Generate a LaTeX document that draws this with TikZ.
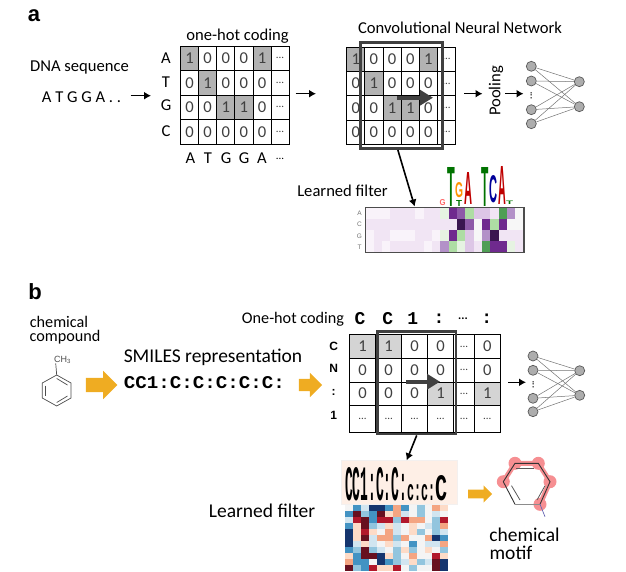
\documentclass[tikz,border=0pt]{standalone}
\usepackage{graphicx}
\usepackage{fontspec}
\setmainfont{Carlito}
\setsansfont{Liberation Sans}
\setmonofont{Liberation Mono}
\usetikzlibrary{arrows.meta}
\usetikzlibrary{shapes.arrows}

% purple/green map of the first filter
\definecolor{hp0}{HTML}{F9F3FA}
\definecolor{hp1}{HTML}{F1E5F4}
\definecolor{hp2}{HTML}{DDC6E6}
\definecolor{hp3}{HTML}{B391C8}
\definecolor{hp4}{HTML}{8E5AA8}
\definecolor{hp5}{HTML}{6F2A8E}
\definecolor{hp6}{HTML}{3A1550}
\definecolor{hw}{HTML}{F7F7F7}
\definecolor{hg0}{HTML}{E6F3E2}
\definecolor{hg1}{HTML}{AEDDA4}
\definecolor{hg2}{HTML}{4F9E55}
% red/blue map of the second filter
\definecolor{hR}{HTML}{67101F}
\definecolor{hr}{HTML}{B2182B}
\definecolor{ho}{HTML}{F4A582}
\definecolor{hl}{HTML}{FDDBC7}
\definecolor{hW}{HTML}{F4F4F4}
\definecolor{hb}{HTML}{D1E5F0}
\definecolor{hm}{HTML}{92C5DE}
\definecolor{hB}{HTML}{4393C3}
\definecolor{hN}{HTML}{15356E}
\definecolor{logoorange}{HTML}{EFAC22}
\definecolor{motifred}{HTML}{F68F92}

\newcommand{\logoletter}[7]{\node[anchor=south west,inner sep=0,text=#6] (#1) at (#2,#3) {\resizebox{#4pt}{#5pt}{\sffamily\bfseries #7}};}
\newcommand{\threedots}{...}
\newcommand{\smalldots}{{\fontsize{11}{11}\selectfont\threedots}}

\begin{document}
\begin{tikzpicture}[x=1pt,y=-1pt]

	\tikzset{label/.style = {font=\fontsize{16.6}{16.6}\selectfont,inner sep=0}}
	\tikzset{biglabel/.style = {font=\fontsize{19.5}{19.5}\selectfont,inner sep=0}}
	\tikzset{panel/.style = {font=\sffamily\bfseries\fontsize{22}{22}\selectfont,inner sep=0}}
	\tikzset{cell/.style = {draw,line width=0.8pt,inner sep=0,text=black!75,font=\fontsize{16.6}{16.6}\selectfont}}
	\tikzset{val0/.style = {node contents=0}}
	\tikzset{val1/.style = {fill=onefill,node contents=1}}
	\tikzset{vald/.style = {node contents=\smalldots}}
	\tikzset{edge/.style = {-{Latex[length=7pt,width=8pt]},line width=1.6pt}}
	\tikzset{window/.style = {draw=black!75,line width=2.8pt,inner sep=0}}
	\tikzset{scan/.style = {-{Triangle[length=13pt,width=15pt]},line width=4pt,draw=black!75}}
	\tikzset{unit/.style = {shape=circle,draw=black!65,fill=black!32,line width=0.7pt,minimum size=10pt,inner sep=0}}
	\tikzset{link/.style = {draw=black!55,line width=0.5pt}}
	\tikzset{blockarrow/.style = {shape=single arrow,fill=logoorange,inner sep=0,single arrow tip angle=90,shape border rotate=0}}
	\useasboundingbox (0,0) rectangle (626,572);

	% panel a
	\node[panel] (lettera) at (34,16) {a};
	\node[label] (dnatitle) at (79.5,68) {DNA sequence};
	\node[label] (dnaseq) at (81.5,97) {A T G G A . .};
	\node[label] (hotA) at (237.5,36) {one-hot coding};
	\node[label] (cnn) at (460,28) {Convolutional Neural Network};
	\node[label,rotate=90] (pooling) at (496,91) {Pooling};
	\node[label] (filterA) at (342.5,191) {Learned filter};

	\foreach \lab/\y [count=\r] in {A/58,T/82,G/105,C/131}
		\node[label] (rowA\r) at (166,\y) {\lab};
	\foreach \lab/\x [count=\c] in {A/190.5,T/208,G/226,G/244,A/262,\smalldots/280}
		\node[label] (colA\c) at (\x,158.5) {\lab};

	% one-hot grids
	\colorlet{onefill}{black!30}
	\foreach \vals [count=\r from 0] in {{1,0,0,0,1,d},{0,1,0,0,0,d},{0,0,1,1,0,d},{0,0,0,0,0,d}}
		\foreach \v [count=\c from 0] in \vals {
			\node (gridA\r\c) at ({189.6+18.1*\c},{58.2+24.5*\r}) [cell,minimum width=18.1pt,minimum height=24.5pt,val\v];
			\node (gridC\r\c) at ({355.8+18.15*\c},{59.2+24.3*\r}) [cell,minimum width=18.15pt,minimum height=24.3pt,val\v];
		}
	\node[window,minimum width=82pt,minimum height=106.4pt] (windowA) at (401.7,95.5) {};
	\coordinate (scanAs) at (397,97.7);
	\coordinate (scanAe) at (433,97.7);
	\draw[scan] (scanAs) to (scanAe);

	% arrows
	\coordinate (a1s) at (130.7,95.7);
	\coordinate (a1e) at (151,95.7);
	\coordinate (a2s) at (295.7,93.7);
	\coordinate (a2e) at (316,93.7);
	\coordinate (a3s) at (464,93.7);
	\coordinate (a3e) at (482.5,93.7);
	\coordinate (a4s) at (505,93.7);
	\coordinate (a4e) at (523.5,93.7);
	\draw[edge] (a1s) to (a1e);
	\draw[edge] (a2s) to (a2e);
	\draw[edge] (a3s) to (a3e);
	\draw[edge] (a4s) to (a4e);

	% network
	\foreach \y [count=\i] in {66.3,81,109.7,123.7}
		\node[unit] (inA\i) at (531.3,\y) {};
	\foreach \y [count=\j] in {81.7,106.7}
		\node[unit] (outA\j) at (579.3,\y) {};
	\foreach \i in {1,2,3,4}
		\foreach \j in {1,2}
			\draw[link] (inA\i) to (outA\j);
	\node[inner sep=0,rotate=90,font=\bfseries\fontsize{9}{9}\selectfont] (dotsA) at (531.3,95.5) {\threedots};

	% purple map
	\foreach \vals [count=\r from 0] in {
		{hp0,hp0,hp0,hp1,hp1,hp1,hp0,hp1,hp1,hg0,hp5,hp4,hg1,hp2,hp2,hp1,hg2,hp3,hw},
		{hp1,hp1,hp1,hp1,hp1,hp1,hp1,hp1,hp1,hp1,hp1,hp6,hp4,hw,hp5,hg1,hp5,hw,hw},
		{hp0,hp1,hp1,hp0,hp0,hp0,hp1,hp1,hp0,hg0,hp5,hg1,hp2,hw,hp3,hp6,hp1,hp1,hp1},
		{hp0,hp1,hp0,hp1,hp1,hp1,hp1,hp0,hp1,hp3,hg1,hg0,hp2,hp1,hg2,hp5,hp5,hg0,hp1}}
		\foreach \v [count=\c from 0] in \vals
			\fill[\v] ({365.3+8.337*\c},{207.3+11.25*\r}) rectangle +(8.4,11.3);
	\node[draw=black!70,line width=1.6pt,inner sep=0,minimum width=158.4pt,minimum height=45pt] (heatA) at (444.5,229.8) {};
	\foreach \lab/\y in {A/213,C/224.5,G/236,T/247.5}
		\node[inner sep=0,text=black!55,font=\sffamily\fontsize{6.5}{6.5}\selectfont] (heatA\lab) at (359.5,\y) {\lab};

	% sequence logo
	\logoletter{logoT}{447}{207}{7.7}{39}{green!45!black}{T}
	\logoletter{logoG}{455}{198}{8}{15}{orange!85!yellow}{G}
	\logoletter{logoS}{456}{207}{6}{6}{green!45!black}{T}
	\logoletter{logoA}{464}{205}{8}{32}{red!75!black}{A}
	\logoletter{logoU}{481}{207}{7.3}{39}{green!45!black}{T}
	\logoletter{logoC}{489}{203}{8}{27}{blue!60!black}{C}
	\logoletter{logoB}{498}{205}{7.7}{38}{red!75!black}{A}
	\logoletter{logoO}{439.5}{206}{6}{6}{red!60}{G}
	\logoletter{logoX}{506}{204.5}{7}{3.5}{green!45!black}{T}

	\draw[edge] (windowA.-94) to (heatA.142);

	% panel b
	\node[panel] (letterb) at (35,292) {b};
	\node[label,font=\fontsize{16.2}{16.2}\selectfont] (chem1) at (59,321.5) {chemical};
	\node[label,font=\fontsize{16.2}{16.2}\selectfont] (chem2) at (65,337) {compound};
	\node[biglabel] (smilestitle) at (213,357.5) {SMILES representation};
	\node[inner sep=0] (smiles) at (204.5,383) {\resizebox{161pt}{12pt}{\ttfamily\bfseries CC1:C:C:C:C:C:}};
	\node[label,font=\fontsize{16.2}{16.2}\selectfont] (hotB) at (293,319) {One-hot coding};
	\node[biglabel] (filterB) at (262,511) {Learned filter};
	\node[biglabel] (motif1) at (524.5,535) {chemical};
	\node[biglabel] (motif2) at (511,553) {motif};

	\foreach \lab/\x [count=\c] in {C/360,C/387.7,1/412.7,:/439,:/486.7}
		\node[inner sep=0,font=\ttfamily\bfseries\fontsize{18}{18}\selectfont] (colB\c) at (\x,319) {\lab};
	\node[inner sep=0,font=\bfseries\fontsize{12}{12}\selectfont] (colBd) at (463,319) {\threedots};
	\foreach \lab/\y [count=\r] in {C/346,N/368.3,:/392,1/415.7}
		\node[inner sep=0,font=\sffamily\bfseries\fontsize{12}{12}\selectfont] (rowB\r) at (333.7,\y) {\lab};

	% toluene
	\draw[draw=black!70,line width=0.7pt] (56.7,375) -- (71,383) -- (71,398) -- (56.7,406) -- (42.3,398) -- (42.3,383) -- cycle;
	\draw[draw=black!70,line width=0.7pt] (56.7,378.5) -- (67.5,385);
	\draw[draw=black!70,line width=0.7pt] (45.5,385.5) -- (45.5,395.5);
	\draw[draw=black!70,line width=0.7pt] (56.7,402.5) -- (67.5,396);
	\node[inner sep=0,text=black!70,font=\sffamily\fontsize{9}{9}\selectfont] (methyl) at (62.5,359.5) {CH\textsubscript{3}};
	\draw[draw=black!70,line width=0.7pt] (56.7,375) to (methyl.-150);

	% orange arrows
	\node[blockarrow,minimum height=31.4pt,minimum width=28pt,inner ysep=7pt,single arrow head extend=7pt] (orange1) at (98,385) {};
	\node[blockarrow,minimum height=23.3pt,minimum width=24pt,inner ysep=6pt,single arrow head extend=6pt] (orange2) at (307.3,385) {};
	\node[blockarrow,minimum height=24pt,minimum width=17pt,inner ysep=4.2pt,single arrow head extend=4.3pt] (orange3) at (478,494) {};

	\colorlet{onefill}{black!17}
	\foreach \vals [count=\r from 0] in {{1,1,0,0,d,0},{0,0,0,0,d,0},{0,0,0,1,d,1},{d,d,d,d,d,d}}
		\foreach \v [count=\c from 0] in \vals {
			\pgfmathsetmacro{\cx}{{362.5,388.7,414.5,440.5,464,487.3}[\c]}
			\pgfmathsetmacro{\cw}{{26.4,26,25.6,26.4,20.6,26}[\c]}
			\pgfmathsetmacro{\cy}{{346.5,370.15,393.65,418.8}[\r]}
			\pgfmathsetmacro{\ch}{{23.6,23.7,23.3,27}[\r]}
			\node (gridB\r\c) at (\cx,\cy) [cell,minimum width=\cw pt,minimum height=\ch pt,val\v];
		}
	\node[window,minimum width=78.7pt,minimum height=102.3pt] (windowB) at (416.7,382.85) {};
	\coordinate (scanBs) at (406,381.7);
	\coordinate (scanBe) at (440,381.7);
	\draw[scan] (scanBs) to (scanBe);

	\coordinate (a5s) at (508.3,382.3);
	\coordinate (a5e) at (526,382.3);
	\draw[edge] (a5s) to (a5e);

	\foreach \y [count=\i] in {356,370.3,398.3,411.7}
		\node[unit] (inB\i) at (533,\y) {};
	\foreach \y [count=\j] in {370.7,395.3}
		\node[unit] (outB\j) at (579.7,\y) {};
	\foreach \i in {1,2,3,4}
		\foreach \j in {1,2}
			\draw[link] (inB\i) to (outB\j);
	\node[inner sep=0,rotate=90,font=\bfseries\fontsize{9}{9}\selectfont] (dotsB) at (533.3,384.5) {\threedots};

	% saliency box
	\node[draw=hl!60!black!12,fill=hl!45,line width=0.8pt,inner sep=0,minimum width=115.6pt,minimum height=43.3pt] (logoB) at (399.5,482.35) {};
	\node[inner sep=0] (logoB1) at (376,484.5) {\resizebox{62pt}{33pt}{\ttfamily\bfseries CC1:C:C:}};
	\node[inner sep=0] (logoB2) at (421,493) {\resizebox{28pt}{16pt}{\ttfamily\bfseries c:c:}};
	\node[inner sep=0] (logoB3) at (441.5,488.5) {\resizebox{12pt}{25pt}{\ttfamily\bfseries C}};

	\draw[edge] (windowB.south) to (logoB.72);

	% red/blue map
	\foreach \vals [count=\r from 0] in {
		{hW,hB,hb,hN,hN,hB,ho,hB,hW,hm,hW,ho,hl},
		{hB,hR,hm,hB,hR,hl,ho,hb,hW,hm,hW,hb,hW},
		{hb,hr,hR,hB,hr,hr,hm,hr,ho,ho,hW,hm,hr},
		{hB,hl,hR,hm,hb,hl,hb,hW,hl,hW,hb,hm,ho},
		{hN,hl,hr,hl,hW,ho,hb,hW,hl,hm,hW,hm,hb},
		{hN,hl,hR,hb,ho,ho,hm,ho,hW,hW,ho,hN,hB},
		{hN,hb,hl,hb,hW,hl,hb,hW,hB,hW,hb,hb,ho},
		{hB,hm,hR,hm,hb,hW,hm,hl,hm,hW,hl,hW,hm},
		{hl,hB,hR,hR,hN,hl,hm,hW,ho,hW,hW,hr,hl},
		{ho,hB,hB,hW,hN,hB,hm,hb,hl,hm,hb,hR,hN},
		{hR,hm,hB,hr,hl,hl,hr,hW,hm,hW,hW,hR,hN}}
		\foreach \v [count=\c from 0] in \vals
			\fill[\v] ({345+7.95*\c},{504.5+6*\r}) rectangle +(8,6.1);

	% motif
	\foreach \x/\y [count=\i] in {515/463.3,538.3/463.3,550/481.7,540/504.3,503.3/481.7}
		\fill[motifred] (\x,\y) circle (6.5);
	\draw[motifred,line width=5pt] (503.3,481.7) -- (515,463.3) -- (538.3,463.3) -- (550,481.7) -- (540,504.3);
	\draw[black!80,line width=0.9pt] (515,504.3) -- (503.3,481.7) -- (515,463.3) -- (538.3,463.3) -- (550,481.7) -- (540,504.3);
	\draw[black!45,line width=1pt] (515,504.3) -- (540,504.3);
	\draw[black!65,line width=0.8pt] (511.5,485.7) -- (520,500);
	\draw[black!65,line width=0.8pt] (516,468.3) -- (533.5,468.3);
	\draw[black!65,line width=0.8pt] (545,485.7) -- (537,500);
	\draw[black!50!blue!60,line width=0.7pt] (540,504.3) -- (545,516.7);

\end{tikzpicture}
\end{document}
